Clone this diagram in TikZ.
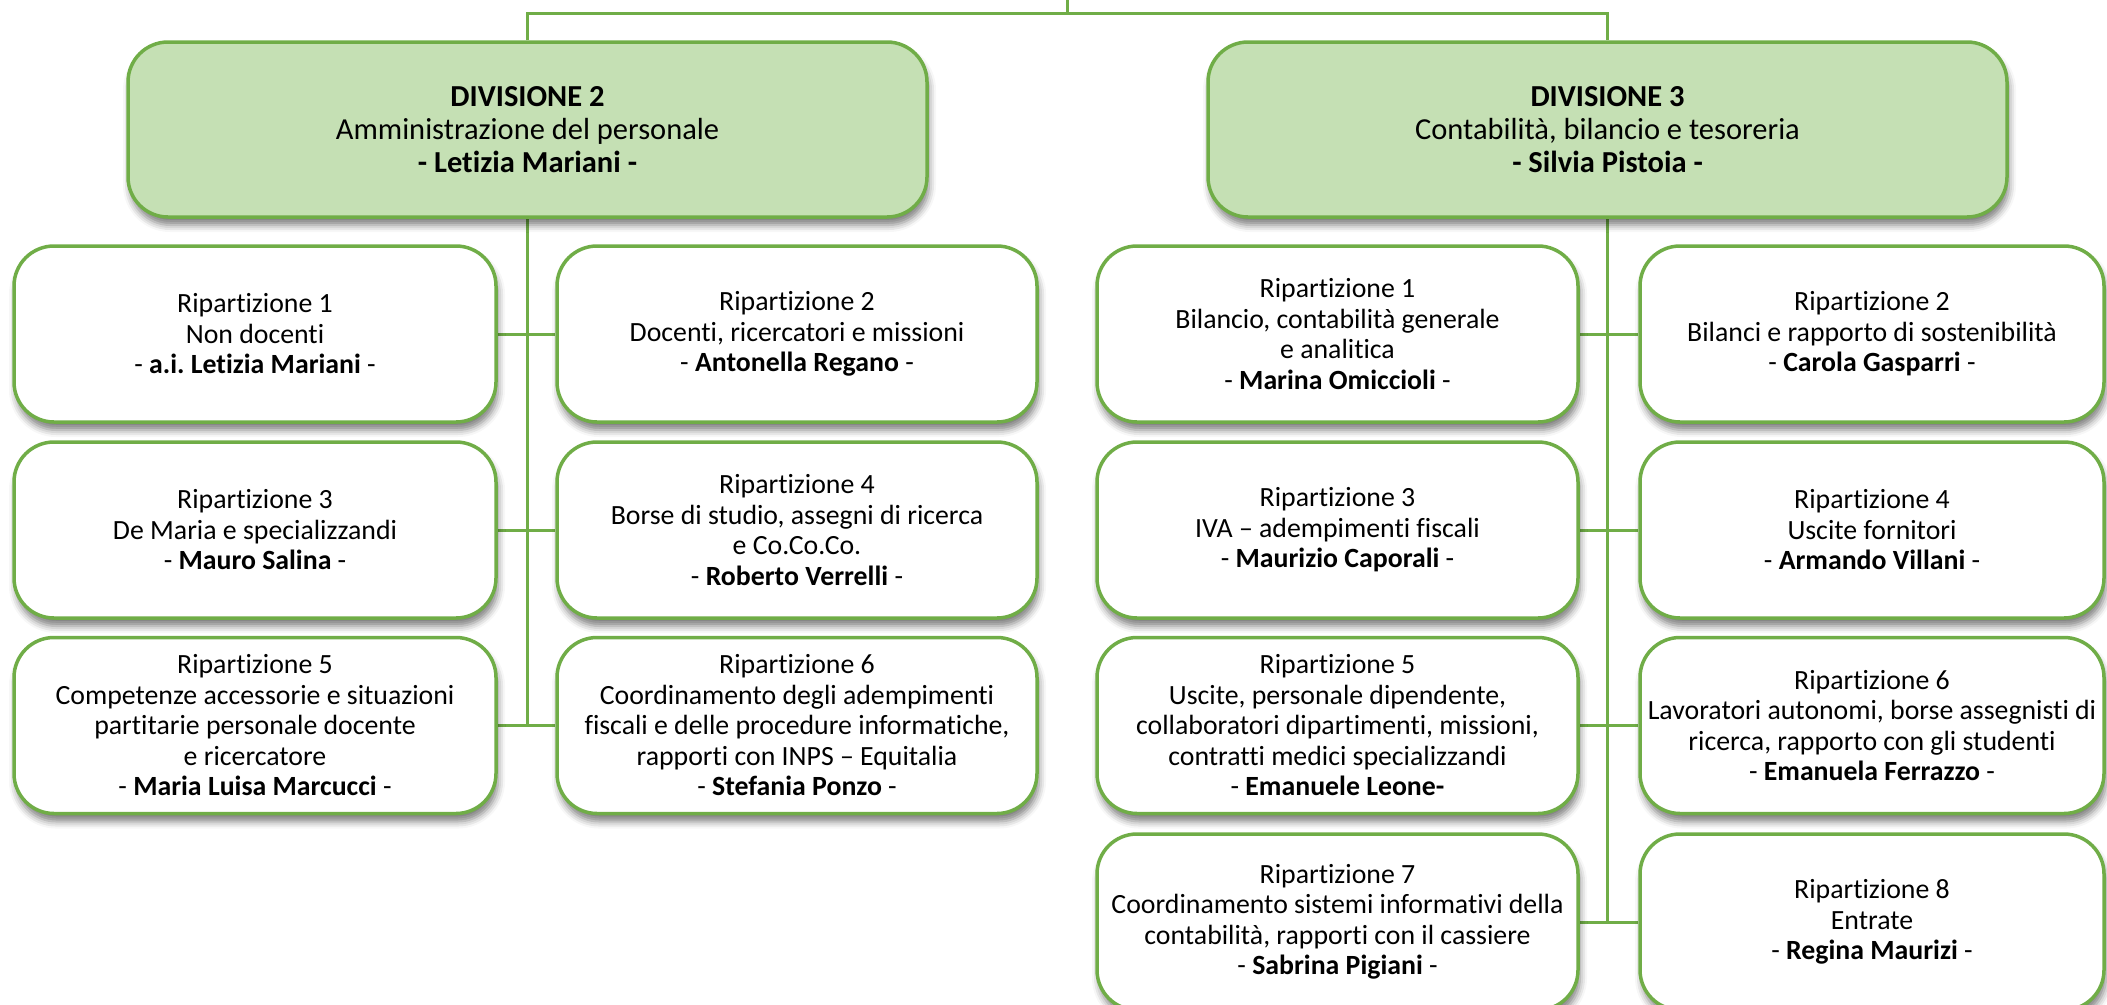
\documentclass[tikz,border=0pt]{standalone}
\usepackage{fontspec}
\setmainfont{Carlito}[RawFeature={-liga;-clig;-dlig;-calt}]
\frenchspacing
\usetikzlibrary{shadows.blur}
\definecolor{grn}{HTML}{70AD47}
\definecolor{lgrn}{HTML}{C5E0B4}
\pgfdeclarelayer{background}
\pgfsetlayers{background,main}
\tikzset{
  box/.style={draw=grn, line width=3.5pt, rounded corners=40pt, fill=white, align=center,
    inner sep=0pt, font=\fontsize{27.8}{30.5}\selectfont,
    blur shadow={shadow xshift=2pt, shadow yshift=-8pt, shadow blur radius=7pt, shadow opacity=50}},
  divbox/.style={box, fill=lgrn, font=\fontsize{30.5}{33}\selectfont, minimum width=799pt, minimum height=175pt},
  wA/.style={box, minimum width=482pt, minimum height=176pt},
  wB/.style={box, minimum width=480pt, minimum height=176pt},
  wC/.style={box, minimum width=481pt, minimum height=176pt},
  wD/.style={box, minimum width=464pt, minimum height=176pt},
  link/.style={draw=grn, line width=3pt},
}
\begin{document}
\begin{tikzpicture}[x=1pt,y=-1pt]
\useasboundingbox (0,0) rectangle (2107,1004);
% divisions
\node[divbox] (d2) at (527.5,129.5) {\textbf{DIVISIONE 2}\\Amministrazione del personale\\\textbf{- Letizia Mariani -}};
\node[divbox] (d3) at (1607.5,129.5) {\textbf{DIVISIONE 3}\\Contabilità, bilancio e tesoreria\\\textbf{- Silvia Pistoia -}};
% division 2
\node[wA] (d2r1) at (255,334) {Ripartizione 1\\Non docenti\\- \textbf{a.i. Letizia Mariani} -};
\node[wB] (d2r2) at (797,334) {Ripartizione 2\\Docenti, ricercatori e missioni\\- \textbf{Antonella Regano} -};
\node[wA] (d2r3) at (255,530) {Ripartizione 3\\De Maria e specializzandi\\- \textbf{Mauro Salina} -};
\node[wB] (d2r4) at (797,530) {Ripartizione 4\\Borse di studio, assegni di ricerca\\e Co.Co.Co.\\- \textbf{Roberto Verrelli} -};
\node[wA] (d2r5) at (255,725.5) {Ripartizione 5\\Competenze accessorie e situazioni\\partitarie personale docente\\e ricercatore\\- \textbf{Maria Luisa Marcucci} -};
\node[wB] (d2r6) at (797,725.5) {Ripartizione 6\\Coordinamento degli adempimenti\\fiscali e delle procedure informatiche,\\rapporti con INPS \textendash{} Equitalia\\- \textbf{Stefania Ponzo} -};
% division 3
\node[wC] (d3r1) at (1337.5,334) {Ripartizione 1\\Bilancio, contabilità generale\\e analitica\\- \textbf{Marina Omiccioli} -};
\node[wD] (d3r2) at (1872,334) {Ripartizione 2\\Bilanci e rapporto di sostenibilità\\- \textbf{Carola Gasparri} -};
\node[wC] (d3r3) at (1337.5,530) {Ripartizione 3\\IVA \textendash{} adempimenti fiscali\\- \textbf{Maurizio Caporali} -};
\node[wD] (d3r4) at (1872,530) {Ripartizione 4\\Uscite fornitori\\- \textbf{Armando Villani} -};
\node[wC] (d3r5) at (1337.5,725.5) {Ripartizione 5\\Uscite, personale dipendente,\\collaboratori dipartimenti, missioni,\\contratti medici specializzandi\\- \textbf{Emanuele Leone-}};
\node[wD] (d3r6) at (1872,725.5) {Ripartizione 6\\Lavoratori autonomi, borse assegnisti di\\ricerca, rapporto con gli studenti\\- \textbf{Emanuela Ferrazzo} -};
\node[wC] (d3r7) at (1337.5,922) {Ripartizione 7\\Coordinamento sistemi informativi della\\contabilità, rapporti con il cassiere\\- \textbf{Sabrina Pigiani} -};
\node[wD] (d3r8) at (1872,922) {Ripartizione 8\\Entrate\\- \textbf{Regina Maurizi} -};
% connectors
\coordinate (topc) at (1067.5,13);
\coordinate (toptop) at (1067.5,-3);
\begin{pgfonlayer}{background}
\draw[link] (d2.north) |- (topc) -| (d3.north);
\draw[link] (topc) -- (toptop);
\draw[link] (d2.south) -- (d2.south |- d2r5.east);
\draw[link] (d2r1.east) -- (d2r2.west);
\draw[link] (d2r3.east) -- (d2r4.west);
\draw[link] (d2r5.east) -- (d2r6.west);
\draw[link] (d3.south) -- (d3.south |- d3r7.east);
\draw[link] (d3r1.east) -- (d3r2.west);
\draw[link] (d3r3.east) -- (d3r4.west);
\draw[link] (d3r5.east) -- (d3r6.west);
\draw[link] (d3r7.east) -- (d3r8.west);
\end{pgfonlayer}
\end{tikzpicture}
\end{document}
